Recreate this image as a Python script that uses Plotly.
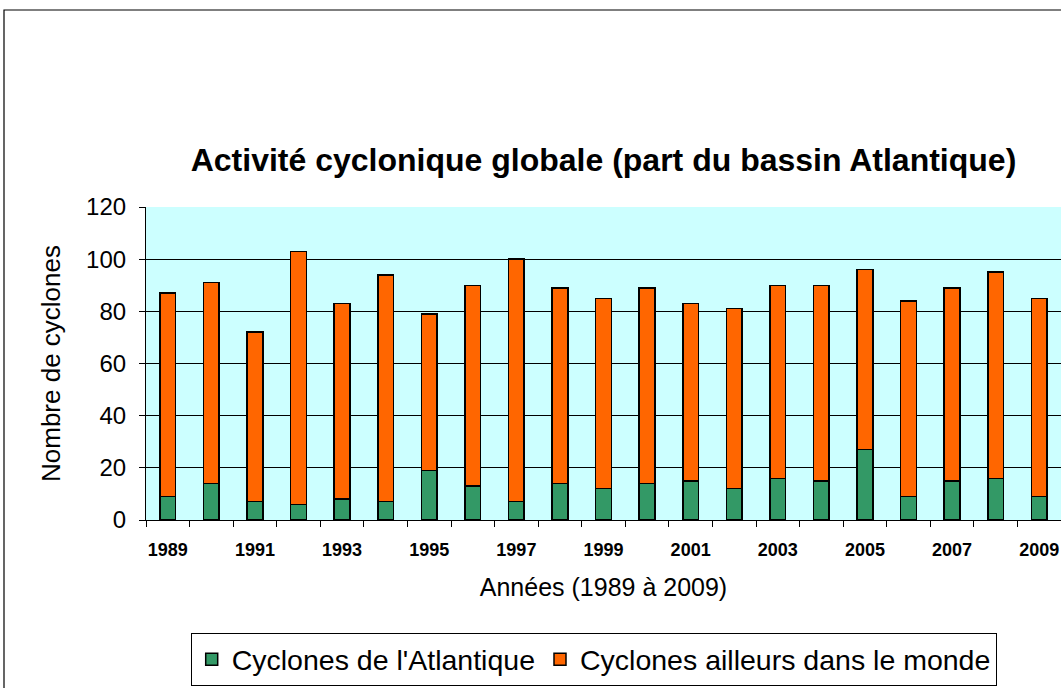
import plotly.graph_objects as go

# Annual cyclone counts, 1989-2009
years = list(range(1989, 2010))
atlantic = [9, 14, 7, 6, 8, 7, 19, 13, 7, 14, 12, 14, 15, 12, 16, 15, 27, 9, 15, 16, 9]
elsewhere = [78, 77, 65, 97, 75, 87, 60, 77, 93, 75, 73, 75, 68, 69, 74, 75, 69, 75, 74, 79, 76]
label_years = [y for y in years if y % 2 == 1]

FONT = "Arial, Liberation Sans, sans-serif"
W, H = 1061, 688
L, R, T, B = 146, 0, 207, 168
pw, ph = W - L - R, H - T - B

fig = go.Figure()
fig.add_trace(go.Bar(
    x=years, y=atlantic, name="Cyclones de l'Atlantique",
    marker=dict(color="#339966", line=dict(color="black", width=1.5)),
))
fig.add_trace(go.Bar(
    x=years, y=elsewhere, name="Cyclones ailleurs dans le monde",
    marker=dict(color="#FF6600", line=dict(color="black", width=1.5)),
))

# outer chart frame (pixel positions converted to plot-relative paper units)
def px_x(px):
    return (px - L) / pw

def px_y(py):
    return (H - B - py) / ph

fig.add_shape(type="rect", xref="paper", yref="paper",
              x0=px_x(4), x1=px_x(1075), y0=px_y(700), y1=px_y(10),
              line=dict(color="black", width=1.2), fillcolor="rgba(0,0,0,0)",
              layer="below")

fig.update_layout(
    width=W, height=H,
    margin=dict(l=L, r=R, t=T, b=B),
    paper_bgcolor="white",
    plot_bgcolor="#CCFFFF",
    barmode="stack",
    bargap=0.64,
    font=dict(family=FONT, color="black"),
    title=dict(
        text="<b>Activité cyclonique globale (part du bassin Atlantique)</b>",
        font=dict(size=32, family=FONT, color="black"),
        xref="paper", x=0.5, xanchor="center",
        yref="container", y=1 - 160 / H, yanchor="middle",
    ),
    xaxis=dict(
        range=[1988.5, 2009.5],
        tickmode="array", tickvals=label_years, ticktext=[str(y) for y in label_years],
        ticks="", tickfont=dict(size=18, family=FONT, color="black", weight="bold"),
        ticklabelstandoff=13,
        showline=True, linecolor="black", linewidth=1.2,
        showgrid=False, zeroline=False,
        minor=dict(tick0=1988.5, dtick=1, ticks="outside", ticklen=6,
                   tickcolor="black", tickwidth=1, showgrid=False),
        title=dict(text="Années (1989 à 2009)",
                   font=dict(size=25, family=FONT, color="black"), standoff=19),
    ),
    yaxis=dict(
        range=[0, 120], dtick=20,
        ticks="outside", ticklen=6, tickcolor="black",
        tickfont=dict(size=24, family=FONT, color="black"),
        ticklabelstandoff=8,
        showline=True, linecolor="black", linewidth=1.2,
        showgrid=True, gridcolor="black", gridwidth=1,
        zeroline=False,
        title=dict(text="Nombre de cyclones",
                   font=dict(size=26, family=FONT, color="black"), standoff=17),
    ),
    legend=dict(
        orientation="h", x=px_x(594), xanchor="center",
        y=px_y(633), yanchor="top",
        bordercolor="black", borderwidth=1.2, bgcolor="white",
        font=dict(size=28.5, family=FONT, color="black"),
        traceorder="normal", itemclick=False,
    ),
    showlegend=True,
)

fig.write_html("out.html")
